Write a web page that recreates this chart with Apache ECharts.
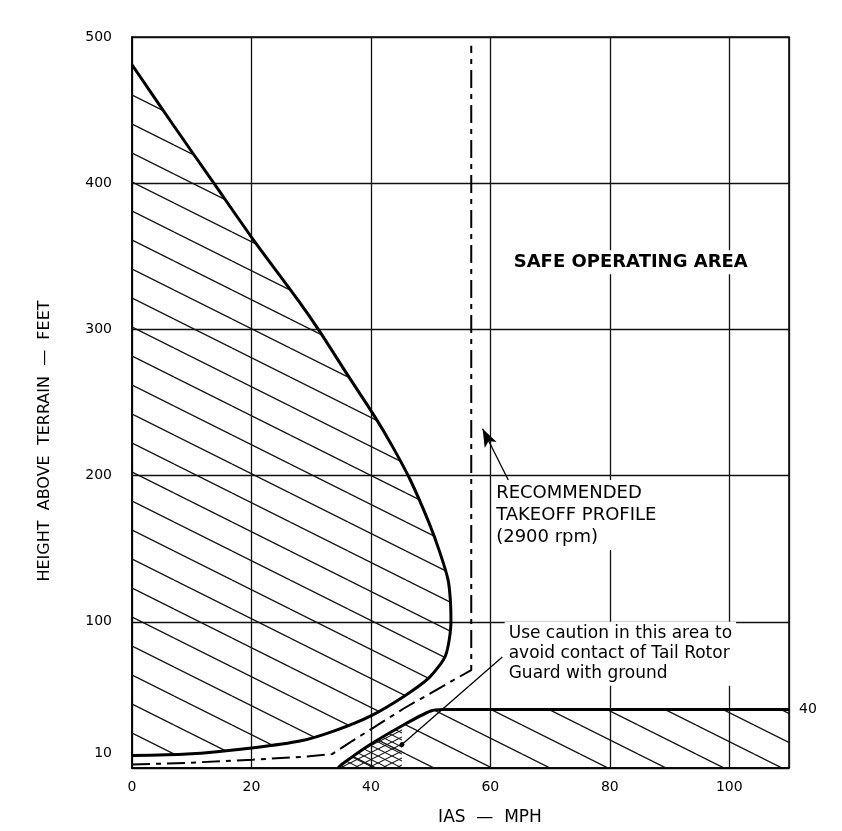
<!DOCTYPE html>
<html>
<head>
<meta charset="utf-8">
<script src="https://cdn.jsdelivr.net/npm/echarts@6/dist/echarts.min.js"></script>
<style>
html, body { margin: 0; padding: 0; background: #fff; }
#Chart { width: 842px; height: 831px; }
</style>
</head>
<body>
<div id="Chart"></div>
<script>
// points are [IAS mph, height ft]
var avoidCurve = [[0, 481], [6.7, 441], [13.7, 400], [20.2, 362], [27.8, 320], [31.2, 300], [35.6, 272],
    [40.7, 240], [43.6, 220], [46.6, 197], [49.7, 168], [51.5, 148], [52.9, 129], [53.3, 115], [53.4, 100],
    [52.5, 77], [49.8, 62], [45.7, 49.5], [39.9, 35.5], [34, 25.6], [28.3, 18.6], [20.4, 13.9], [9.2, 9.5], [0, 8.5]];
var lowAvoidEdge = [[34.5, 0], [35.2, 2.7], [39.5, 15.1], [45.3, 29.1], [50, 39], [52, 40], [110, 40]];
var takeoffProfile = [[0, 2.4], [9.1, 3.5], [20.2, 5.7], [29.3, 7.8], [33.5, 9.5], [36.7, 18], [45.5, 40.7],
    [56.8, 67], [56.8, 494]];
var cautionArea = [[34.5, 0], [35.2, 2.7], [39.5, 15.1], [44.5, 27], [45.2, 27], [45.2, 0]];
var lowAvoidArea = lowAvoidEdge.concat([[110, 0]]);

var xLabels = [0, 20, 40, 60, 80, 100];
var yLabels = [10, 100, 200, 300, 400, 500];

function hatch(w, h, lw, cross) {
    var c = document.createElement('canvas');
    c.width = w;
    c.height = h;
    var ctx = c.getContext('2d');
    ctx.strokeStyle = '#111';
    ctx.lineWidth = lw;
    for (var k = -1; k <= 1; k++) {
        ctx.beginPath();
        ctx.moveTo(0, k * h);
        ctx.lineTo(w, (k + 1) * h);
        ctx.stroke();
        if (cross) {
            ctx.beginPath();
            ctx.moveTo(0, (k + 1) * h);
            ctx.lineTo(w, k * h);
            ctx.stroke();
        }
    }
    return { image: c, repeat: 'repeat' };
}
var hatchFill = hatch(58, 29, 1.3, false);
var crossFill = hatch(14, 7, 1.1, true);

function region(name, pts, fill) {
    return {
        name: name,
        type: 'custom',
        data: [0],
        silent: true,
        z: 1,
        renderItem: function (params, api) {
            return {
                type: 'polygon',
                shape: { points: pts.map(function (p) { return api.coord(p); }) },
                style: { fill: fill, stroke: null }
            };
        }
    };
}

var textFont = 'DejaVu Sans';
var Chart = echarts.init(document.getElementById('Chart'));

var option = {
    backgroundColor: '#fff',
    animation: false,
    textStyle: { fontFamily: textFont, color: '#000' },
    grid: { left: 132, right: 53, top: 37, bottom: 63, show: true, borderColor: '#000', borderWidth: 1.5 },
    graphic: [{
        type: 'text', x: 45, y: 441, rotation: Math.PI / 2,
        style: { text: 'HEIGHT  ABOVE  TERRAIN  —  FEET', fontFamily: textFont, fontSize: 16,
            fill: '#000', align: 'center', verticalAlign: 'middle' }
    }, {
        type: 'text', x: 490, y: 818,
        style: { text: 'IAS  —  MPH', fontFamily: textFont, fontSize: 17,
            fill: '#000', align: 'center', verticalAlign: 'middle' }
    }],
    xAxis: {
        type: 'value', min: 0, max: 110, interval: 20,
        axisLine: { lineStyle: { color: '#000', width: 1.5 } },
        axisTick: { show: false },
        splitLine: { lineStyle: { color: '#111', width: 1.3 } },
        axisLabel: {
            customValues: xLabels, margin: 12, fontSize: 14, color: '#000',
            formatter: function (v) { return v > 100 ? '' : v; }
        }
    },
    yAxis: {
        type: 'value', min: 0, max: 500, interval: 100,
        axisLine: { lineStyle: { color: '#000', width: 1.5 } },
        axisTick: { show: false },
        splitLine: { lineStyle: { color: '#111', width: 1.3 } },
        axisLabel: {
            customValues: yLabels, margin: 20, fontSize: 14, color: '#000',
            formatter: function (v) { return v === 0 ? '' : v; }
        }
    },
    series: [
        region('avoid', avoidCurve, hatchFill),
        region('avoid low', lowAvoidArea, hatchFill),
        region('caution', cautionArea, crossFill),
        {
            name: 'avoid curve', type: 'line', data: avoidCurve, showSymbol: false, smooth: 0.25, z: 3,
            lineStyle: { color: '#000', width: 3 }
        },
        {
            name: 'low avoid', type: 'line', data: lowAvoidEdge, showSymbol: false, smooth: 0.2, z: 3,
            lineStyle: { color: '#000', width: 3 },
            endLabel: { show: true, formatter: '40', fontSize: 14, color: '#000', distance: 10 }
        },
        {
            name: 'takeoff', type: 'line', data: takeoffProfile, showSymbol: false, z: 3,
            lineStyle: { color: '#000', width: 2, type: [18, 6, 5, 6] }
        },
        {
            name: 'notes', type: 'scatter', symbolSize: 0, z: 5, silent: true,
            itemStyle: { opacity: 1 },
            label: { show: true, color: '#000', opacity: 1, fontFamily: textFont, backgroundColor: '#fff' },
            data: [
                { value: [83.5, 346], label: { formatter: 'SAFE OPERATING AREA', fontSize: 18, fontWeight: 'bold',
                    position: 'inside', align: 'center', verticalAlign: 'middle', padding: [3, 6] } },
                { value: [60.3, 197], label: { formatter: 'RECOMMENDED\nTAKEOFF PROFILE\n(2900 rpm)', fontSize: 18,
                    lineHeight: 22, position: [0, 0], align: 'left', verticalAlign: 'top', padding: [2, 4] } },
                { value: [62.4, 100], label: { formatter: 'Use caution in this area to\navoid contact of Tail Rotor\nGuard with ground',
                    fontSize: 17, lineHeight: 20, position: [0, 0], align: 'left', verticalAlign: 'top', padding: [2, 4] } }
            ],
            markLine: {
                silent: true, animation: false,
                label: { show: false },
                lineStyle: { color: '#000', type: 'solid', width: 1.3, opacity: 1 },
                data: [
                    [{ coord: [63, 197], symbol: 'none' }, { coord: [58.7, 232], symbol: 'arrow', symbolSize: [10, 18] }],
                    [{ coord: [62, 76], symbol: 'none' }, { coord: [45.2, 16], symbol: 'circle', symbolSize: 5 }]
                ]
            }
        }
    ]
};

Chart.setOption(option);

window.addEventListener('resize', function () {
    Chart.resize();
});
</script>
</body>
</html>
